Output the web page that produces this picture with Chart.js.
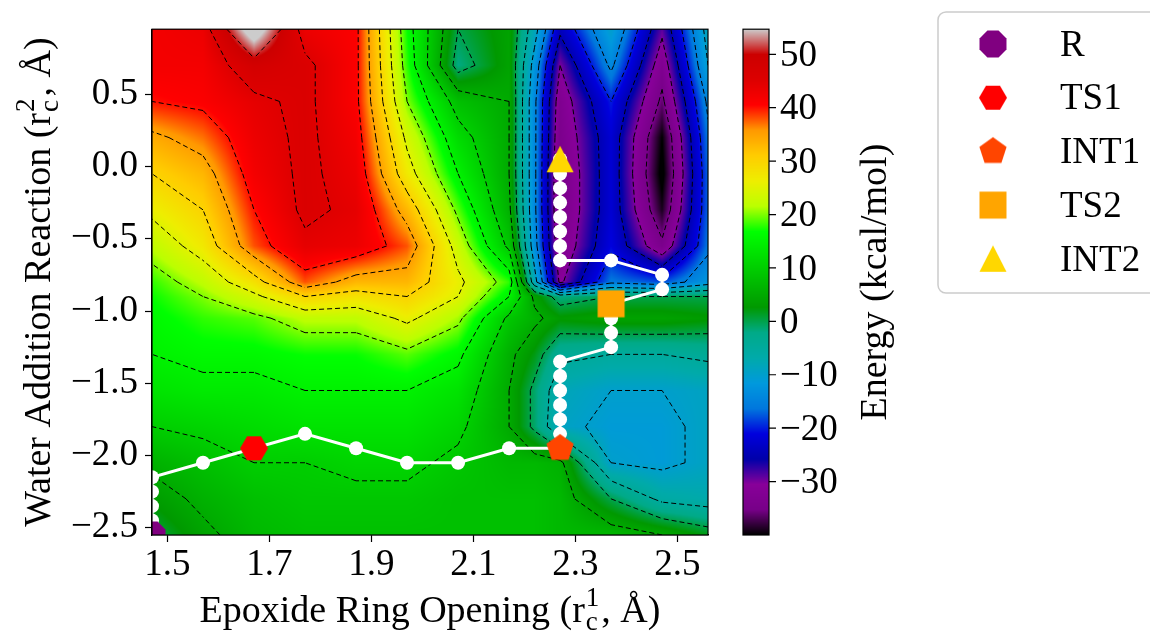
<!DOCTYPE html>
<html>
<head>
<meta charset="utf-8">
<script src="https://cdn.jsdelivr.net/npm/chart.js@4.4.1/dist/chart.umd.min.js"></script>
<style>
  html, body { margin: 0; padding: 0; background: #fff; }
  canvas { display: block; }
</style>
</head>
<body>
<canvas id="pes" width="1150" height="633"></canvas>
<script>
// grid of the energy surface (x = r_c^1, y = r_c^2)
const gridX = [1.47, 1.57, 1.67, 1.77, 1.87, 1.97, 2.07, 2.17, 2.22, 2.27, 2.37, 2.47, 2.56];
const gridY = [0.95, 0.70, 0.45, 0.20, -0.05, -0.30, -0.55, -0.80, -0.90, -1.05, -1.30, -1.55, -1.80, -2.05, -2.30, -2.55];
// energy (kcal/mol), one row per gridY value, one column per gridX value
const energy = [
  [42, 43, 58, 43, 41, 17,  0,  4,  -8, -24, -10, -29,  -8],
  [42, 42, 48, 46, 41, 18, -2,  4, -12, -30, -14, -33, -10],
  [40, 41, 44, 46, 41, 20,  8,  5, -14, -33, -20, -36, -14],
  [34, 37, 43, 46, 42, 24, 12,  5, -14, -34, -22, -40, -16],
  [30, 33, 42, 46, 43, 27, 15,  5, -14, -35, -22, -41, -17],
  [26, 30, 40, 46, 44, 33, 19,  6, -14, -35, -22, -39, -17],
  [22, 27, 38, 44, 43, 38, 23,  9, -13, -34, -21, -34, -16],
  [18, 22, 28, 38, 33, 33, 26, 18,  -8, -31, -16, -18, -12],
  [17, 20, 24, 30, 28, 30, 25, 15,   4,  -2,   0,   0,   0],
  [16, 18, 19, 22, 22, 26, 21,  9,   6,   3,   4,   4,   3],
  [15, 16, 16, 17, 17, 19, 16,  6,   2,  -4,  -5,  -5,  -4],
  [13, 14, 14, 15, 15, 15, 13,  5,  -1,  -8, -10, -10,  -9],
  [10, 11, 12, 13, 13, 13, 11,  5,  -1,  -9, -11, -11,  -9],
  [ 6,  8, 10, 10, 11, 11,  9,  7,   7,   6, -10, -11,  -9],
  [ 3,  6,  8,  9,  9,  9,  8,  8,   8,   7,   0,  -6,  -7],
  [ 0,  4,  7,  8,  8,  8,  8,  8,   8,   7,   7,   5,   2]
];
const contourLevels = [-35, -30, -25, -20, -15, -10, -5, 0, 5, 10, 15, 20, 25, 30, 35, 40, 45, 50];
const energyMin = -40;
const energyMax = 54.7;

// minimum energy path
const pathX = [1.47, 1.47, 1.47, 1.47, 1.47, 1.57, 1.67, 1.77, 1.87, 1.97, 2.07, 2.17, 2.27,
  2.27, 2.27, 2.27, 2.27, 2.27, 2.27, 2.37, 2.37, 2.37, 2.37, 2.47, 2.47, 2.37, 2.27,
  2.27, 2.27, 2.27, 2.27, 2.27, 2.27, 2.27];
const pathY = [-2.55, -2.45, -2.35, -2.25, -2.15, -2.05, -1.95, -1.85, -1.95, -2.05, -2.05, -1.95, -1.95,
  -1.85, -1.75, -1.65, -1.55, -1.45, -1.35, -1.25, -1.15, -1.05, -0.95, -0.85, -0.75, -0.65, -0.65,
  -0.55, -0.45, -0.35, -0.25, -0.15, -0.05, 0.05];

// stationary points
const stateLabels = ['R', 'TS1', 'INT1', 'TS2', 'INT2'];
const stateX = [1.47, 1.67, 2.27, 2.37, 2.27];
const stateY = [-2.55, -1.95, -1.95, -0.95, 0.05];

const xTicks = [1.5, 1.7, 1.9, 2.1, 2.3, 2.5];
const yTicks = [0.5, 0.0, -0.5, -1.0, -1.5, -2.0, -2.5];
const cbTicks = [50, 40, 30, 20, 10, 0, -10, -20, -30];

// ---- styles ----
const FONT = "'Liberation Serif', 'DejaVu Serif', serif";
const TICK_SIZE = 37;
const stateStyles = [
  { shape: 'octagon', color: '#800080' },
  { shape: 'hexagon', color: '#ff0000' },
  { shape: 'pentagon', color: '#ff4500' },
  { shape: 'square', color: '#ffa500' },
  { shape: 'triangle', color: '#ffd700' }
];

// nipy_spectral colour map
const CM_R = [0, .4667, .5333, 0, 0, 0, 0, 0, 0, 0, 0, 0, 0, .7333, .9333, 1, 1, 1, .8667, .8, .8];
const CM_G = [0, 0, 0, 0, 0, .4667, .6, .6667, .6667, .6, .7333, .8667, 1, 1, .9333, .8, .6, 0, 0, 0, .8];
const CM_B = [0, .5333, .6, .6667, .8667, .8667, .8667, .6667, .5333, 0, 0, 0, 0, 0, 0, 0, 0, 0, 0, 0, .8];

function cmap(v) {
  let t = (v - energyMin) / (energyMax - energyMin);
  t = Math.min(1, Math.max(0, t));
  const f = t * 20;
  const i = Math.min(19, Math.floor(f));
  const u = f - i;
  return [
    255 * (CM_R[i] + (CM_R[i + 1] - CM_R[i]) * u),
    255 * (CM_G[i] + (CM_G[i + 1] - CM_G[i]) * u),
    255 * (CM_B[i] + (CM_B[i + 1] - CM_B[i]) * u)
  ];
}

function locate(arr, v) {
  const asc = arr[arr.length - 1] > arr[0];
  for (let i = 0; i < arr.length - 2; i++) {
    const b = arr[i + 1];
    if (asc ? v <= b : v >= b) return [i, Math.min(1, Math.max(0, (v - arr[i]) / (b - arr[i])))];
  }
  const i = arr.length - 2;
  return [i, Math.min(1, Math.max(0, (v - arr[i]) / (arr[i + 1] - arr[i])))];
}

function fmt(v, d) {
  return (v < 0 ? '\u2212' : '') + Math.abs(v).toFixed(d);
}

function makeMarker(shape, color) {
  const c = document.createElement('canvas');
  c.width = 32; c.height = 32;
  const g = c.getContext('2d');
  g.fillStyle = color;
  g.translate(16, 16);
  g.beginPath();
  const poly = (n, r, a0) => {
    for (let k = 0; k < n; k++) {
      const a = a0 + k * 2 * Math.PI / n;
      g.lineTo(r * Math.cos(a), r * Math.sin(a));
    }
    g.closePath();
  };
  if (shape === 'octagon') poly(8, 14.6, Math.PI / 8);
  else if (shape === 'hexagon') poly(6, 14, 0);
  else if (shape === 'pentagon') poly(5, 14.3, -Math.PI / 2);
  else if (shape === 'square') g.rect(-13.5, -13.5, 27, 27);
  else if (shape === 'triangle') { g.moveTo(0, -13.5); g.lineTo(13.5, 13); g.lineTo(-13.5, 13); g.closePath(); }
  g.fill();
  return c;
}
const markerImgs = stateStyles.map(s => makeMarker(s.shape, s.color));

function drawRich(ctx, parts, cx, cy, rot, size) {
  const small = Math.round(size * 0.7);
  const big = size + 'px ' + FONT, sm = small + 'px ' + FONT;
  const widths = parts.map(p => {
    if (p.t !== undefined) { ctx.font = big; return ctx.measureText(p.t).width; }
    ctx.font = sm;
    return Math.max(ctx.measureText(p.sub).width, ctx.measureText(p.sup).width) + 3;
  });
  const total = widths.reduce((a, b) => a + b, 0);
  ctx.save();
  ctx.translate(cx, cy);
  ctx.rotate(rot);
  ctx.fillStyle = '#000';
  ctx.textAlign = 'left';
  ctx.textBaseline = 'alphabetic';
  let x = -total / 2;
  parts.forEach((p, i) => {
    if (p.t !== undefined) { ctx.font = big; ctx.fillText(p.t, x, 0); }
    else {
      ctx.font = sm;
      ctx.fillText(p.sup, x + 1, -size * 0.42);
      ctx.fillText(p.sub, x + 1, size * 0.2);
    }
    x += widths[i];
  });
  ctx.restore();
}

const surfacePlugin = {
  id: 'surface',
  beforeDatasetsDraw(chart) {
    const { ctx, chartArea: a, scales: { x, y } } = chart;
    const w = Math.round(a.right - a.left), h = Math.round(a.bottom - a.top);
    const off = document.createElement('canvas');
    off.width = w; off.height = h;
    const octx = off.getContext('2d');
    const img = octx.createImageData(w, h);
    const cols = [], rows = [];
    for (let i = 0; i < w; i++) cols.push(locate(gridX, x.getValueForPixel(a.left + i + 0.5)));
    for (let j = 0; j < h; j++) rows.push(locate(gridY, y.getValueForPixel(a.top + j + 0.5)));
    for (let j = 0; j < h; j++) {
      const [ri, ru] = rows[j];
      const r0 = energy[ri], r1 = energy[ri + 1];
      for (let i = 0; i < w; i++) {
        const [ci, cu] = cols[i];
        const top = r0[ci] * (1 - cu) + r0[ci + 1] * cu;
        const bot = r1[ci] * (1 - cu) + r1[ci + 1] * cu;
        const col = cmap(top * (1 - ru) + bot * ru);
        const k = (j * w + i) * 4;
        img.data[k] = col[0]; img.data[k + 1] = col[1]; img.data[k + 2] = col[2]; img.data[k + 3] = 255;
      }
    }
    octx.putImageData(img, 0, 0);
    ctx.drawImage(off, a.left, a.top);

    // dashed contour lines (marching squares on the grid)
    ctx.save();
    ctx.beginPath();
    ctx.rect(a.left, a.top, a.right - a.left, a.bottom - a.top);
    ctx.clip();
    ctx.strokeStyle = '#000';
    ctx.lineWidth = 1;
    ctx.setLineDash([5, 3]);
    ctx.beginPath();
    for (const lev of contourLevels) {
      for (let r = 0; r < gridY.length - 1; r++) {
        for (let c = 0; c < gridX.length - 1; c++) {
          const xs = [gridX[c], gridX[c + 1], gridX[c + 1], gridX[c]];
          const ys = [gridY[r], gridY[r], gridY[r + 1], gridY[r + 1]];
          const vs = [energy[r][c], energy[r][c + 1], energy[r + 1][c + 1], energy[r + 1][c]].map(v => v === lev ? v + 1e-6 : v);
          const above = vs.map(v => v > lev);
          const cross = [];
          for (let e = 0; e < 4; e++) {
            const p = e, q = (e + 1) % 4;
            if (above[p] !== above[q]) {
              const t = (lev - vs[p]) / (vs[q] - vs[p]);
              cross[e] = [xs[p] + (xs[q] - xs[p]) * t, ys[p] + (ys[q] - ys[p]) * t];
            }
          }
          const segs = [];
          const idx = [0, 1, 2, 3].filter(e => cross[e]);
          if (idx.length === 2) segs.push([cross[idx[0]], cross[idx[1]]]);
          else if (idx.length === 4) {
            const centre = (vs[0] + vs[1] + vs[2] + vs[3]) / 4 > lev;
            // corner k touches edges (k-1) and k
            for (let k = 0; k < 4; k++) {
              if (above[k] !== centre) segs.push([cross[(k + 3) % 4], cross[k]]);
            }
          }
          for (const [p, q] of segs) {
            ctx.moveTo(x.getPixelForValue(p[0]), y.getPixelForValue(p[1]));
            ctx.lineTo(x.getPixelForValue(q[0]), y.getPixelForValue(q[1]));
          }
        }
      }
    }
    ctx.stroke();
    ctx.restore();
  },
  afterDatasetsDraw(chart) {
    const { ctx, chartArea: a } = chart;
    ctx.save();
    ctx.strokeStyle = '#000';
    ctx.lineWidth = 1.2;
    ctx.strokeRect(a.left, a.top, a.right - a.left, a.bottom - a.top);
    ctx.restore();
  },
  afterDraw(chart) {
    const { ctx, chartArea: a } = chart;
    const cb = chart.scales.cb;

    // colour bar
    const bx = a.right + 35, bw = 26;
    for (let py = Math.floor(cb.top); py < Math.ceil(cb.bottom); py++) {
      const col = cmap(cb.getValueForPixel(py + 0.5));
      ctx.fillStyle = `rgb(${col[0]},${col[1]},${col[2]})`;
      ctx.fillRect(bx, py, bw, 1);
    }
    ctx.save();
    ctx.strokeStyle = '#000';
    ctx.lineWidth = 1.2;
    ctx.strokeRect(bx, cb.top, bw, cb.bottom - cb.top);
    ctx.font = TICK_SIZE + 'px ' + FONT;
    ctx.fillStyle = '#000';
    ctx.textAlign = 'left';
    ctx.textBaseline = 'middle';
    ctx.beginPath();
    for (const v of cbTicks) {
      const py = cb.getPixelForValue(v);
      ctx.moveTo(bx + bw, py);
      ctx.lineTo(bx + bw + 7, py);
      ctx.fillText(fmt(v, 0), bx + bw + 11, py + 2);
    }
    ctx.stroke();
    ctx.restore();
    drawRich(ctx, [{ t: 'Energy (kcal/mol)' }], 886, (cb.top + cb.bottom) / 2, -Math.PI / 2, 38);

    // axis titles
    drawRich(ctx, [{ t: 'Epoxide Ring Opening (r' }, { sub: 'c', sup: '1' }, { t: ', \u00c5)' }],
      (a.left + a.right) / 2, 622, 0, 38);
    drawRich(ctx, [{ t: 'Water Addition Reaction (r' }, { sub: 'c', sup: '2' }, { t: ', \u00c5)' }],
      50, (a.top + a.bottom) / 2, -Math.PI / 2, 38);

    // legend
    const lx = 938, ly = 12, lh = 281;
    ctx.save();
    ctx.beginPath();
    ctx.roundRect(lx, ly, 260, lh, 8);
    ctx.fillStyle = 'rgba(255,255,255,0.9)';
    ctx.fill();
    ctx.strokeStyle = '#cccccc';
    ctx.lineWidth = 1.5;
    ctx.stroke();
    ctx.font = TICK_SIZE + 'px ' + FONT;
    ctx.fillStyle = '#000';
    ctx.textAlign = 'left';
    ctx.textBaseline = 'middle';
    chart.data.datasets.forEach((ds, i) => {
      if (!ds.inLegend) return;
      const cy = ly + 32 + i * 53.7;
      const im = markerImgs[i];
      ctx.drawImage(im, 993 - im.width / 2, cy - im.height / 2);
      ctx.fillText(ds.label, 1060, cy + 2);
    });
    ctx.restore();
  }
};

const stateSets = stateLabels.map((lab, i) => ({
  label: lab,
  inLegend: true,
  data: [{ x: stateX[i], y: stateY[i] }],
  pointStyle: markerImgs[i],
  pointRadius: 13,
  showLine: false,
  clip: 0,
  order: 0
}));

new Chart(document.getElementById('pes'), {
  type: 'scatter',
  data: {
    datasets: [
      ...stateSets,
      {
        label: 'path',
        data: pathX.map((v, i) => ({ x: v, y: pathY[i] })),
        showLine: true,
        borderColor: '#ffffff',
        borderWidth: 3,
        pointRadius: 7,
        pointBackgroundColor: '#ffffff',
        pointBorderWidth: 0,
        tension: 0,
        clip: 0,
        order: 1
      }
    ]
  },
  options: {
    responsive: false,
    animation: false,
    devicePixelRatio: 1,
    events: [],
    layout: { padding: { top: 15, left: 0, right: 0, bottom: 0 } },
    plugins: { legend: { display: false }, tooltip: { enabled: false } },
    scales: {
      x: {
        type: 'linear', min: 1.47, max: 2.56, position: 'bottom',
        afterBuildTicks: s => { s.ticks = xTicks.map(v => ({ value: v })); },
        afterFit: s => { s.height = 98; },
        ticks: { font: { family: FONT, size: TICK_SIZE }, color: '#000', padding: 1, maxRotation: 0, autoSkip: false,
          callback: v => fmt(v, 1) },
        grid: { drawOnChartArea: false, tickLength: 7, color: '#000', tickWidth: 1.2 },
        border: { color: '#000', width: 1.2 }
      },
      y: {
        type: 'linear', min: -2.55, max: 0.95, position: 'left',
        afterBuildTicks: s => { s.ticks = yTicks.map(v => ({ value: v })); },
        afterFit: s => { s.width = 152; },
        ticks: { font: { family: FONT, size: TICK_SIZE }, color: '#000', padding: 7, autoSkip: false,
          callback: v => fmt(v, 1) },
        grid: { drawOnChartArea: false, tickLength: 7, color: '#000', tickWidth: 1.2 },
        border: { color: '#000', width: 1.2 }
      },
      cb: {
        type: 'linear', min: energyMin, max: energyMax, position: 'right',
        afterFit: s => { s.width = 442; },
        ticks: { display: false },
        grid: { display: false },
        border: { display: false }
      }
    }
  },
  plugins: [surfacePlugin]
});
</script>
</body>
</html>
